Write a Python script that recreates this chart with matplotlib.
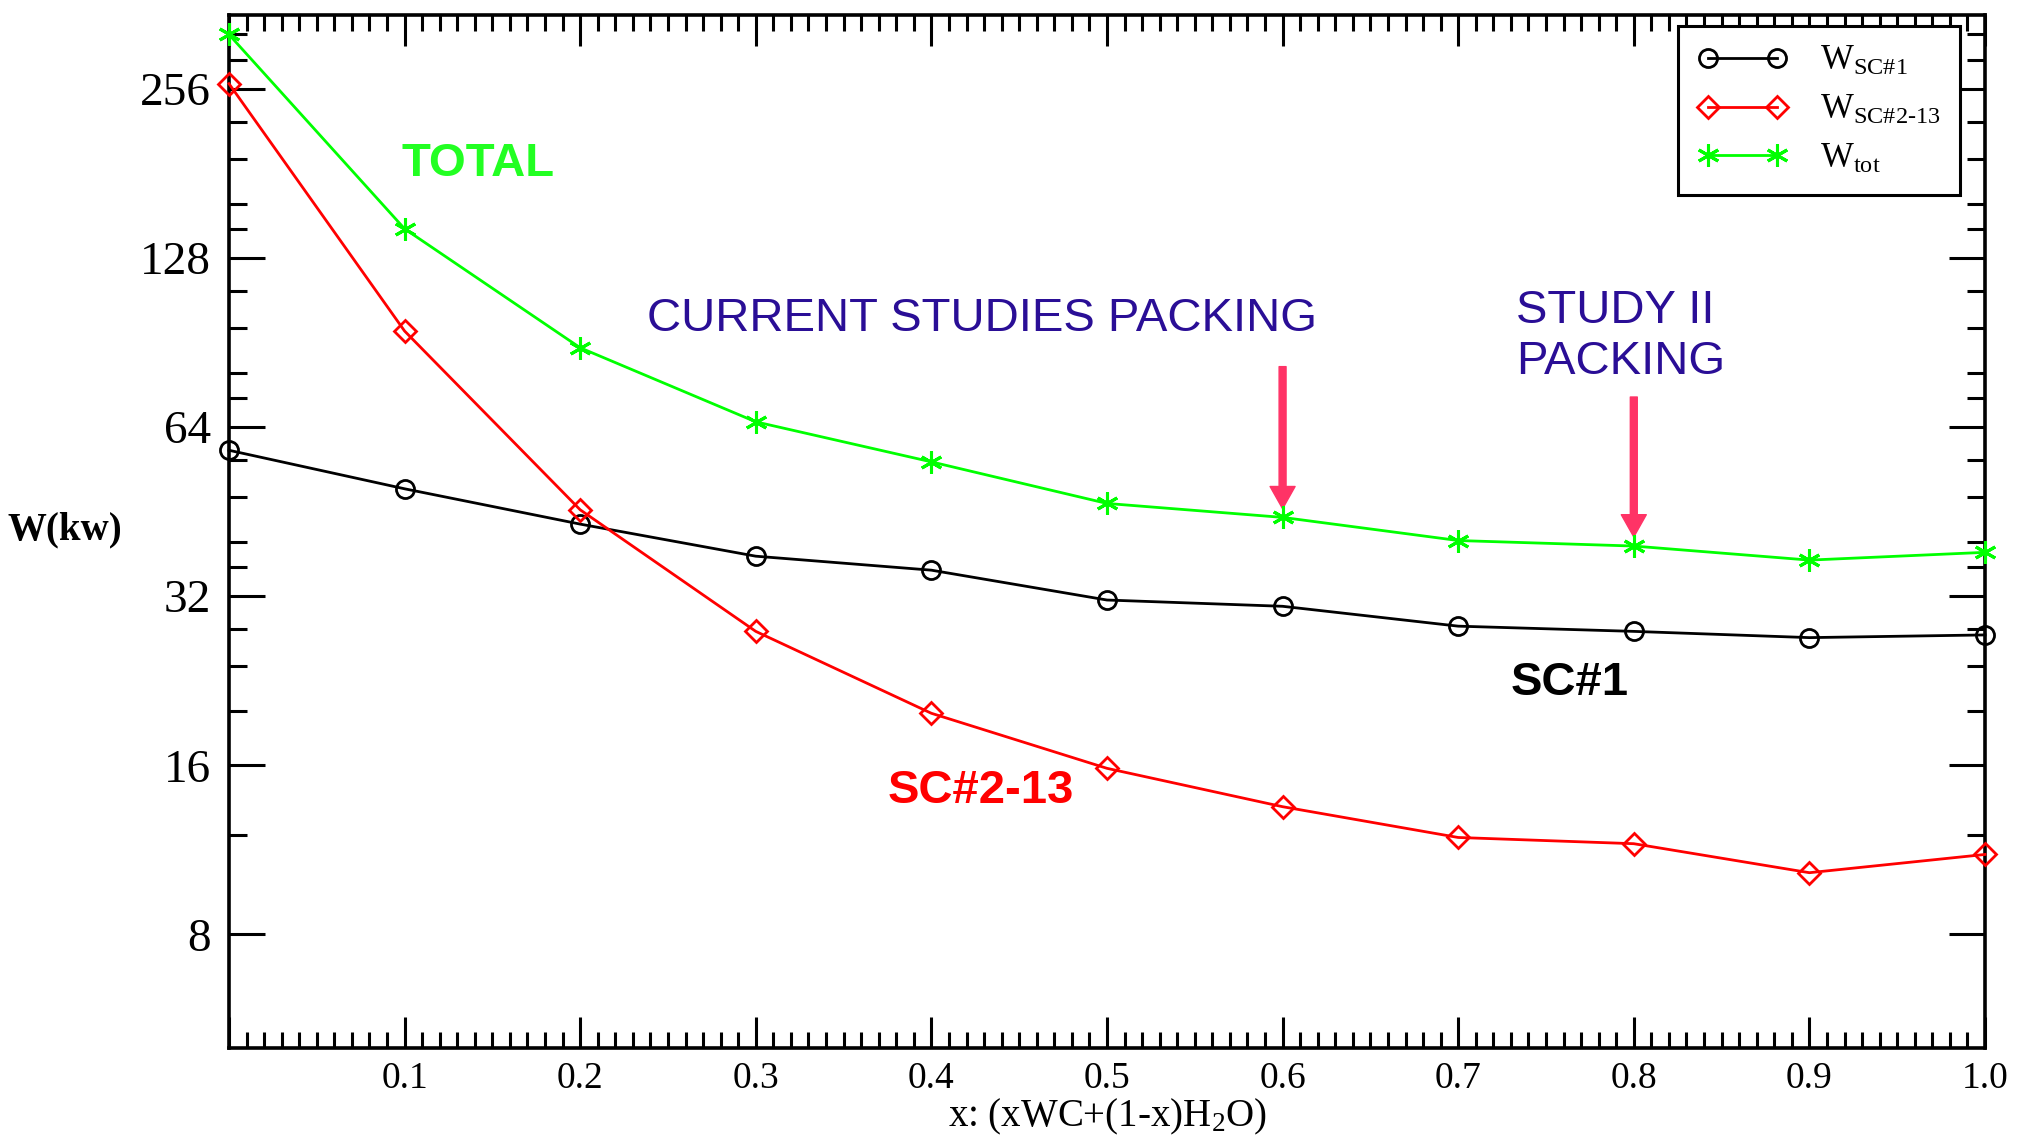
import matplotlib
matplotlib.use("Agg")
import matplotlib.pyplot as plt
from matplotlib.ticker import FixedLocator, NullFormatter, MultipleLocator

# data
x = [0.0, 0.1, 0.2, 0.3, 0.4, 0.5, 0.6, 0.7, 0.8, 0.9, 1.0]
w_sc1 = [58.2, 49.7, 43.0, 37.7, 35.6, 31.5, 30.7, 28.3, 27.7, 27.0, 27.3]
w_sc213 = [261.6, 94.9, 45.6, 27.7, 19.8, 15.8, 13.5, 11.9, 11.6, 10.3, 11.1]
w_tot = [320.0, 144.3, 88.6, 65.4, 55.5, 46.8, 44.2, 40.2, 39.3, 37.1, 38.3]

y_major = [8, 16, 32, 64, 128, 256]
y_minor = [12, 20, 24, 28, 36, 40, 48, 56, 72, 80, 96, 112, 144, 160, 192, 224, 288, 320]
x_ticklabels = ["", "0.1", "0.2", "0.3", "0.4", "0.5", "0.6", "0.7", "0.8", "0.9", "1.0"]

plt.rcParams['font.family'] = ['Liberation Serif', 'DejaVu Serif']
plt.rcParams['mathtext.fontset'] = 'custom'
plt.rcParams['mathtext.rm'] = 'Liberation Serif'
plt.rcParams['mathtext.it'] = 'Liberation Serif:italic'
plt.rcParams['mathtext.bf'] = 'Liberation Serif:bold'

fig = plt.figure(figsize=(20.28, 11.44), dpi=100)
ax = fig.add_axes([0.1129, 0.0839, 0.8659, 0.9026])

ax.plot(x, w_sc1, color='black', lw=2, marker='o', ms=13, mfc='none', mew=2,
        label=r'W$_{\mathrm{SC\#1}}$', clip_on=False, zorder=5)
ax.plot(x, w_sc213, color='red', lw=2, marker='D', ms=11, mfc='none', mew=2,
        label=r'W$_{\mathrm{SC\#2\text{-}13}}$', clip_on=False, zorder=5)
ax.plot(x, w_tot, color='#00ff00', lw=2, marker=(6, 2, 0), ms=16, mew=2.2,
        label=r'W$_{\mathrm{tot}}$', clip_on=False, zorder=5)

ax.set_yscale('log')
ax.set_ylim(5.02, 346)
ax.set_xlim(0, 1.0)
ax.yaxis.set_major_locator(FixedLocator(y_major))
ax.yaxis.set_minor_locator(FixedLocator(y_minor))
ax.yaxis.set_minor_formatter(NullFormatter())
ax.set_yticklabels([str(v) for v in y_major])
ax.set_xticks(x)
ax.set_xticklabels(x_ticklabels)
ax.xaxis.set_minor_locator(MultipleLocator(0.01))

ax.tick_params(axis='both', which='both', direction='in', top=True, right=True, width=2.2, color='black')
ax.tick_params(axis='x', which='major', length=22, labelsize=27, pad=10)
ax.tick_params(axis='x', which='minor', length=11.5)
ax.tick_params(axis='y', which='major', length=26, labelsize=34, pad=13)
ax.tick_params(axis='y', which='minor', length=13)
for s in ax.spines.values():
    s.set_linewidth(2.6)

ax.set_xlabel(r'x: (xWC+(1-x)H$_2$O)', fontsize=28, labelpad=0)
fig.text(8 / 2028, 1 - 530 / 1144, 'W(kw)', fontsize=28, fontweight='bold', ha='left', va='center')

# annotations
sans = ['Liberation Sans', 'DejaVu Sans']
blue = '#2a0e96'
ax.text(0.098, 188, 'TOTAL', color='#22ff22', fontsize=34, fontweight='bold', family=sans, va='center')
ax.text(0.238, 99.5, 'CURRENT STUDIES PACKING', color=blue, fontsize=34, family=sans, va='center')
ax.text(0.733, 92.8, 'STUDY II\nPACKING', color=blue, fontsize=34, family=sans, va='center', linespacing=1.2)
ax.text(0.730, 22.4, 'SC#1', color='black', fontsize=34, fontweight='bold', family=sans, va='center')
ax.text(0.375, 14.4, 'SC#2-13', color='red', fontsize=34, fontweight='bold', family=sans, va='center')

arrow_style = dict(facecolor='#ff3366', edgecolor='#ff3366', width=5, headwidth=18, headlength=16, shrink=0)
ax.annotate('', xy=(0.6, 45.8), xytext=(0.6, 82), arrowprops=arrow_style)
ax.annotate('', xy=(0.8, 40.8), xytext=(0.8, 72.4), arrowprops=arrow_style)

leg = ax.legend(loc='upper right', bbox_to_anchor=(0.9858, 0.9898), borderaxespad=0,
                fontsize=25, numpoints=2, handlelength=2.6, fancybox=False,
                framealpha=1, edgecolor='black', labelspacing=0.45, borderpad=0.55, handletextpad=0.95)
leg.get_frame().set_linewidth(2.2)

fig.savefig('out.png', dpi=100)
